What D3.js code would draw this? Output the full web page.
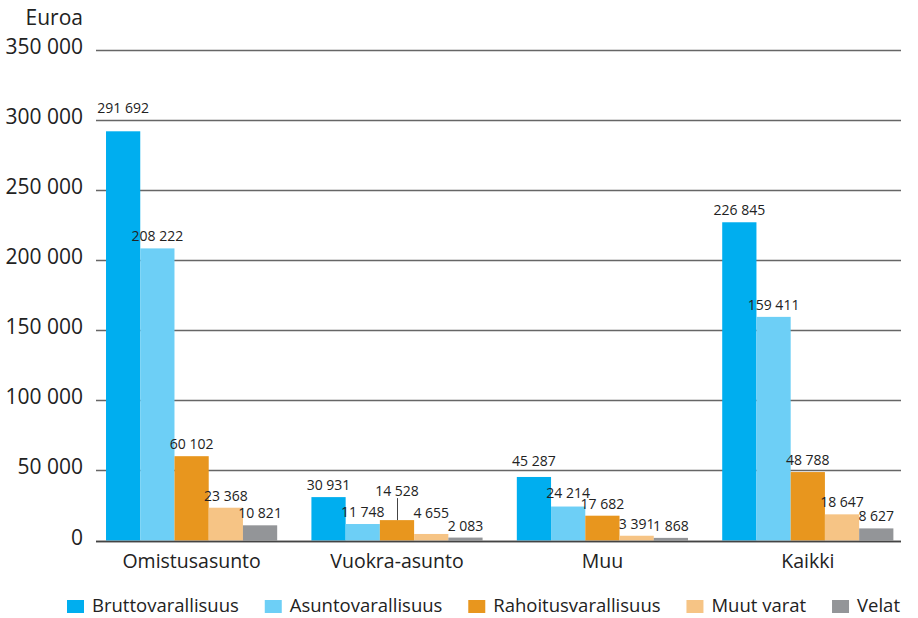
<!DOCTYPE html>
<html>
<head>
<meta charset="utf-8">
<script src="https://cdn.jsdelivr.net/npm/d3@7"></script>
<style>
  html, body { margin: 0; padding: 0; background: #fff; }
  svg { display: block; }
  text { font-family: "Open Sans", "Noto Sans", sans-serif; fill: #222; }
</style>
</head>
<body>
<svg id="chart" width="918" height="618"></svg>
<script>
// ---- Data ----
const categories = ["Omistusasunto", "Vuokra-asunto", "Muu", "Kaikki"];
const seriesNames = ["Bruttovarallisuus", "Asuntovarallisuus", "Rahoitusvarallisuus", "Muut varat", "Velat"];
const bruttovarallisuus   = [291692, 30931, 45287, 226845];
const asuntovarallisuus   = [208222, 11748, 24214, 159411];
const rahoitusvarallisuus = [60102, 14528, 17682, 48788];
const muutVarat           = [23368, 4655, 3391, 18647];
const velat               = [10821, 2083, 1868, 8627];
const yTicks = [0, 50000, 100000, 150000, 200000, 250000, 300000, 350000];
const yUnit = "Euroa";

const seriesValues = [bruttovarallisuus, asuntovarallisuus, rahoitusvarallisuus, muutVarat, velat];
const colors = ["#00aeef", "#6dcff6", "#e8961e", "#f6c485", "#939598"];

// ---- Layout ----
const svg = d3.select("#chart");
const fmt = v => d3.format(",")(v).replace(/,/g, " ");

const y = d3.scaleLinear().domain([0, 350000]).range([540.5, 49.5]);
const x0 = d3.scaleBand().domain(categories).range([88.9, 910.5]).padding(0);
const x1 = d3.scaleBand().domain(seriesNames).range([0, x0.bandwidth()])
  .paddingInner(0).paddingOuter(0.5);

const gridLeft = 96, gridRight = 901;

// gridlines
svg.append("g").selectAll("line").data(yTicks).join("line")
  .attr("x1", gridLeft).attr("x2", gridRight)
  .attr("y1", d => Math.round(y(d)) + 0.5).attr("y2", d => Math.round(y(d)) + 0.5)
  .attr("stroke", d => d === 0 ? "#444" : "#666")
  .attr("stroke-width", 1.6);

// y tick labels
svg.append("g").selectAll("text").data(yTicks).join("text")
  .attr("x", 83).attr("y", d => y(d) + 4)
  .attr("text-anchor", "end")
  .attr("font-size", 21)
  .text(d => fmt(d));

svg.append("text").attr("x", 83).attr("y", 25).attr("text-anchor", "end")
  .attr("font-size", 21).text(yUnit);

// bars
const flat = [];
categories.forEach((c, ci) => seriesNames.forEach((s, si) => {
  flat.push({ c, s, si, v: seriesValues[si][ci] });
}));

svg.append("g").selectAll("rect").data(flat).join("rect")
  .attr("x", d => x0(d.c) + x1(d.s))
  .attr("width", x1.bandwidth())
  .attr("y", d => y(d.v))
  .attr("height", d => y(0) - y(d.v))
  .attr("fill", d => colors[d.si]);

// redraw baseline over bars
svg.append("line").attr("x1", gridLeft).attr("x2", gridRight)
  .attr("y1", Math.round(y(0)) + 0.5).attr("y2", Math.round(y(0)) + 0.5)
  .attr("stroke", "#444").attr("stroke-width", 1.6);

// value labels (a few lifted to avoid collisions, as in the original)
const lift = {
  "Omistusasunto|Bruttovarallisuus": 11,
  "Vuokra-asunto|Rahoitusvarallisuus": 17,
  "Vuokra-asunto|Muut varat": 9,
  "Muu|Bruttovarallisuus": 4,
  "Muu|Asuntovarallisuus": 2
};
svg.append("g").selectAll("text").data(flat).join("text")
  .attr("x", d => x0(d.c) + x1(d.s) + x1.bandwidth() / 2)
  .attr("y", d => y(d.v) - 7 - (lift[d.c + "|" + d.s] || 0))
  .attr("text-anchor", "middle")
  .attr("font-size", 14)
  .text(d => fmt(d.v));

// leader line for the lifted Rahoitusvarallisuus label
flat.filter(d => d.c === "Vuokra-asunto" && d.s === "Rahoitusvarallisuus").forEach(d => {
  const cx = Math.round(x0(d.c) + x1(d.s) + x1.bandwidth() / 2) + 0.5;
  svg.append("line").attr("x1", cx).attr("x2", cx)
    .attr("y1", y(d.v) - 22).attr("y2", y(d.v))
    .attr("stroke", "#444").attr("stroke-width", 1);
});

// category labels
svg.append("g").selectAll("text").data(categories).join("text")
  .attr("x", d => x0(d) + x0.bandwidth() / 2)
  .attr("y", 568)
  .attr("text-anchor", "middle")
  .attr("font-size", 19.5)
  .text(d => d);

// legend
const lg = svg.append("g");
const legendLeft = 67, legendRight = 900, swatchW = 17, textGap = 8;
const items = seriesNames.map((s, i) => {
  const g = lg.append("g");
  g.append("rect").attr("y", 600).attr("width", swatchW).attr("height", 13).attr("fill", colors[i]);
  const t = g.append("text").attr("x", swatchW + textGap).attr("y", 612).attr("font-size", 18.5).text(s);
  return { g, w: swatchW + textGap + t.node().getComputedTextLength() };
});
const totalW = d3.sum(items, d => d.w);
const gap = (legendRight - legendLeft - totalW) / (items.length - 1);
let lx = legendLeft;
items.forEach(it => { it.g.attr("transform", `translate(${lx},0)`); lx += it.w + gap; });
</script>
</body>
</html>
